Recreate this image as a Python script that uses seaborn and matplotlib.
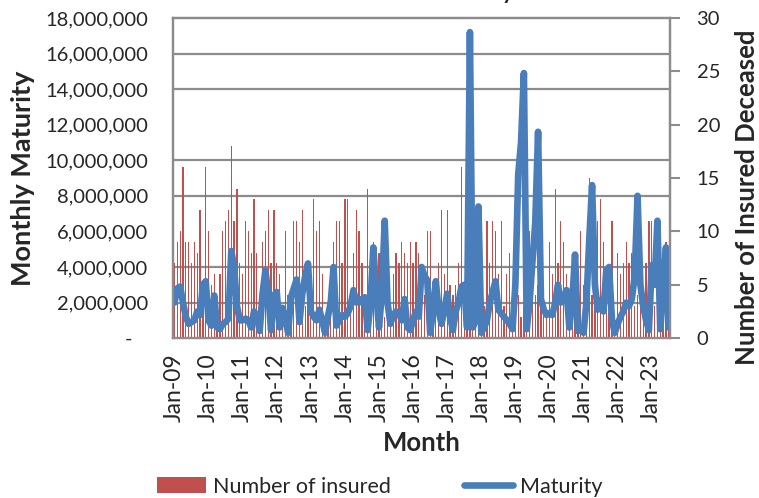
import matplotlib
matplotlib.use('Agg')
import matplotlib.pyplot as plt
import numpy as np
import pandas as pd
import seaborn as sns
from matplotlib.ticker import MultipleLocator, FuncFormatter

# months Jan-09 .. Jul-23
months = pd.date_range('2009-01-01', periods=175, freq='MS').strftime('%b-%y').tolist()

# number of insured deceased per month (right axis)
insured = [
    7, 9, 10, 16, 9, 9, 7, 9, 8, 12, 4, 16,      # 2009
    10, 5, 6, 3, 6, 10, 11, 12, 18, 11, 14, 7,   # 2010
    6, 11, 10, 8, 13, 8, 3, 9, 10, 12, 7, 12,    # 2011
    7, 6, 3, 10, 4, 4, 11, 11, 9, 12, 3, 4,      # 2012
    2, 13, 10, 11, 6, 2, 3, 2, 9, 11, 11, 7,     # 2013
    13, 13, 3, 8, 12, 10, 7, 3, 14, 3, 9, 4,     # 2014
    8, 3, 2, 4, 3, 6, 8, 7, 9, 8, 7, 9,          # 2015
    7, 9, 8, 3, 4, 10, 10, 2, 4, 7, 12, 6,       # 2016
    12, 5, 4, 5, 7, 16, 3, 5, 2, 4, 3, 2,        # 2017
    4, 3, 11, 7, 11, 10, 6, 11, 3, 6, 8, 5,      # 2018
    3, 4, 2, 3, 4, 10, 8, 4, 5, 3, 4, 2,         # 2019
    9, 6, 14, 7, 11, 9, 6, 3, 2, 4, 3, 10,       # 2020
    5, 3, 15, 4, 3, 11, 13, 9, 3, 4, 11, 2,      # 2021
    8, 6, 7, 9, 7, 8, 3, 4, 3, 2, 7, 11,         # 2022
    11, 3, 4, 4, 3, 9, 5,                        # 2023
]

# monthly maturity in millions (left axis)
maturity_mn = [
    2.0, 2.8, 2.9, 2.0, 1.2, 0.8, 0.9, 1.0, 1.5, 1.3, 3.0, 3.2,
    1.0, 0.7, 2.4, 0.6, 0.5, 0.8, 0.9, 1.1, 4.9, 4.0, 1.8, 1.0,
    1.0, 1.1, 1.0, 0.6, 1.5, 1.2, 0.4, 2.5, 3.8, 2.5, 0.45, 2.4,
    2.6, 0.6, 1.7, 1.0, 0.3, 2.3, 2.8, 3.3, 0.9, 2.5, 3.5, 4.2,
    1.5, 1.2, 1.0, 1.6, 1.0, 0.3, 1.2, 2.0, 4.0, 0.7, 1.0, 1.3,
    1.2, 1.4, 1.8, 2.7, 2.0, 2.2, 2.0, 2.3, 0.45, 2.0, 5.1, 2.5,
    0.6, 2.5, 6.6, 2.0, 0.8, 1.3, 1.5, 1.4, 1.0, 2.2, 0.6, 0.45,
    1.0, 1.5, 1.2, 4.0, 3.5, 3.25, 0.3, 1.5, 3.2, 1.5, 0.8, 1.6,
    2.5, 1.2, 0.45, 1.5, 2.0, 2.9, 3.0, 0.6, 17.2, 0.6, 1.0, 7.4,
    0.3, 0.6, 1.0, 2.0, 2.6, 3.2, 1.6, 1.4, 1.2, 1.0, 0.8, 0.5,
    3.0, 9.2, 11.0, 14.9, 0.5, 2.0, 4.3, 6.5, 11.6, 2.2, 1.6, 1.3,
    1.4, 1.3, 2.0, 3.0, 2.0, 2.2, 2.7, 0.6, 2.0, 4.7, 0.4, 0.5,
    0.3, 2.0, 5.5, 8.6, 3.0, 1.6, 2.1, 1.5, 3.8, 4.0, 1.0, 0.3,
    0.8, 1.2, 1.5, 2.0, 1.8, 2.2, 3.5, 8.0, 3.0, 1.8, 1.0, 0.45,
    4.1, 3.0, 6.6, 0.5, 2.5, 5.1, 0.6,
]

df = pd.DataFrame({'Month': months,
                   'pos': np.arange(len(months)),
                   'Insured': insured,
                   'Maturity': np.array(maturity_mn) * 1e6})

RED = '#C0504D'
BLUE = '#4A7EBB'
GRID = '#8C8C8C'

sns.set_style('white')
plt.rcParams['font.family'] = ['Lato', 'DejaVu Sans']

fig, ax = plt.subplots(figsize=(7.59, 4.98), dpi=100)
fig.subplots_adjust(left=0.228, right=0.883, top=0.964, bottom=0.321)

# bars: number of insured (drawn on the lower axes, ticks shown on the right)
sns.barplot(data=df, x='Month', y='Insured', ax=ax, color=RED,
            saturation=1, width=0.45, linewidth=0, label='Number of insured')

# line: maturity (twin axes on top, ticks shown on the left)
ax2 = ax.twinx()
sns.lineplot(data=df, x='pos', y='Maturity', ax=ax2, color=BLUE,
             linewidth=4.8, solid_joinstyle='round', solid_capstyle='round',
             label='Maturity')

for a in (ax, ax2):
    if a.get_legend() is not None:
        a.get_legend().remove()

ax.set_xlim(-0.5, len(months) - 0.5)
ax.set_ylim(0, 30)
ax2.set_ylim(0, 18_000_000)

# right axis (insured)
ax.yaxis.tick_right()
ax.yaxis.set_label_position('right')
ax.yaxis.set_major_locator(MultipleLocator(5))
ax.tick_params(axis='y', which='major', right=True, length=7, width=1.5,
               color=GRID, pad=12, labelsize=14.5)
ax.set_ylabel('Number of Insured Deceased', fontsize=18.5, fontweight='bold')
ax.yaxis.set_label_coords(1.131, 0.44)

# horizontal gridlines every 2,000,000 (behind the bars)
ax.yaxis.set_minor_locator(MultipleLocator(30 / 9))
ax.tick_params(axis='y', which='minor', length=0)
ax.grid(which='minor', axis='y', color=GRID, linewidth=1.6)
ax.set_axisbelow(True)

# x axis: one label per January
ax.set_xticks(df['pos'][::12])
ax.set_xticklabels(df['Month'][::12], rotation=90)
ax.tick_params(axis='x', length=0, pad=11, labelsize=16.5)
ax.set_xlabel('Month', fontsize=18.5, fontweight='bold', labelpad=6)

# left axis (maturity)
ax2.yaxis.tick_left()
ax2.yaxis.set_label_position('left')
ax2.yaxis.set_major_locator(MultipleLocator(2_000_000))
ax2.yaxis.set_major_formatter(FuncFormatter(
    lambda v, p: '-   ' if v == 0 else f'{v:,.0f}'))
ax2.tick_params(axis='y', length=0, pad=18, labelsize=14.5)
ax2.set_ylabel('Monthly Maturity', fontsize=19.5, fontweight='bold')
ax2.yaxis.set_label_coords(-0.278, 0.5)
ax2.set_xlabel('')

for a in (ax, ax2):
    for s in a.spines.values():
        s.set_color(GRID)
        s.set_linewidth(1.6)

# legend below
h1, l1 = ax.get_legend_handles_labels()
h2, l2 = ax2.get_legend_handles_labels()
fig.legend(h1 + h2, l1 + l2, loc='lower center', bbox_to_anchor=(0.5, -0.036),
           ncol=2, frameon=False, fontsize=15.5, handlelength=2.3,
           handletextpad=0.3, columnspacing=3.4)

# title sits mostly above the canvas (only a descender is visible)
fig.text(0.677, 1.002, 'Number of Insured Deceased and Maturity', ha='right',
         va='baseline', fontsize=16, fontweight='bold')

plt.savefig('out.png', dpi=100)
